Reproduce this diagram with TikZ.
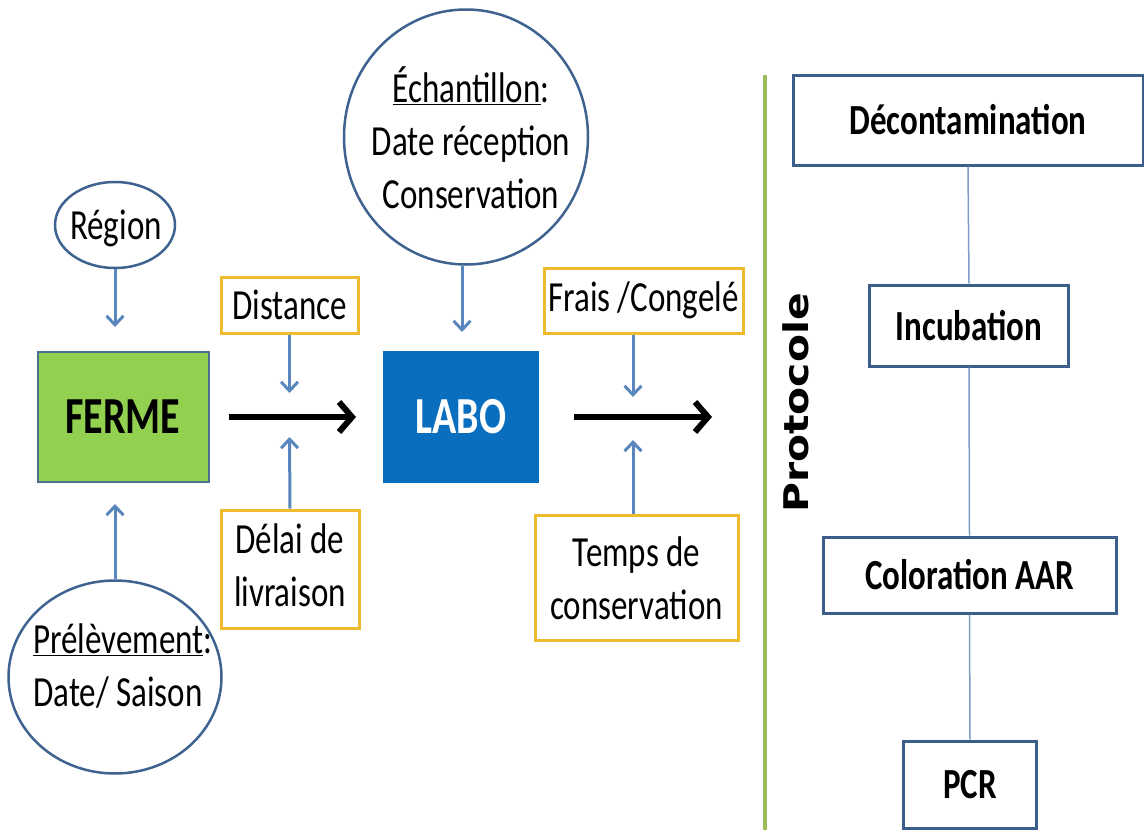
\documentclass[tikz,border=0pt]{standalone}
\usepackage{fontspec}
\setmainfont{Carlito}
\newfontfamily\protofont{DejaVu Sans}
\usepackage{graphicx}
\usetikzlibrary{arrows.meta,shapes.geometric}
\definecolor{ellbd}{HTML}{3F6390}
\definecolor{arrblue}{HTML}{5A86BE}
\definecolor{goldbd}{HTML}{EDBB2C}
\definecolor{fermegreen}{HTML}{92D050}
\definecolor{fermebd}{HTML}{4A6F8F}
\definecolor{labofill}{HTML}{0A6EBF}
\definecolor{stepbd}{HTML}{3B5E8A}
\definecolor{thinline}{HTML}{7E9CC6}
\definecolor{greenline}{HTML}{9BBB59}
\newcommand\vst[1]{\scalebox{1}[1.3]{#1}}
\begin{document}
\begin{tikzpicture}[x=1pt,y=-1pt,
  txt/.style={font=\fontsize{33}{41}\selectfont, text=black, inner sep=0pt},
  oval/.style={ellipse, draw=ellbd, line width=2.5pt, fill=white, inner sep=0pt},
  param/.style={rectangle, draw=goldbd, line width=3pt, fill=white, inner sep=0pt, txt},
  stepbox/.style={rectangle, draw=stepbd, line width=3pt, fill=white, inner sep=0pt, font=\fontsize{33}{41}\selectfont\bfseries},
  mainbox/.style={rectangle, line width=2pt, inner sep=0pt, minimum width=171pt, minimum height=130pt, font=\fontsize{40}{48}\selectfont\bfseries},
  feed/.style={draw=arrblue, line width=3pt, -{Straight Barb[length=9pt,width=17pt]}},
  flow/.style={draw=black, line width=6pt, -{Straight Barb[length=13pt,width=30pt]}},
  link/.style={draw=thinline, line width=1.5pt}
]
\useasboundingbox (0,0) rectangle (1144,830);
\fill[white] (0,0) rectangle (1144,830);

% main boxes
\node[mainbox, draw=fermebd, fill=fermegreen, text=black] (ferme) at (123,417) {\vst{FERME}};
\node[mainbox, draw=labofill, fill=labofill, text=white, minimum width=154pt] (labo) at (461,417) {\vst{LABO}};

% ellipses
\node[oval, minimum width=120pt, minimum height=86pt] (region) at (115,225) {};
\node[txt] (regiont) at (116,228) {\vst{Région}};
\node[oval, minimum width=213pt, minimum height=193pt] (prel) at (115,677) {};
\node[txt, anchor=west] (prelt) at (33,669) {\vst{\begin{tabular}{@{}l@{}}\underline{Prélèvement}:\\Date/ Saison\end{tabular}}};
\node[oval, minimum width=244pt, minimum height=255pt] (ech) at (466,137) {};
\node[txt] (echt) at (471,145) {\vst{\begin{tabular}{@{}c@{}}\underline{Échantillon}:\\Date réception\\Conservation\end{tabular}}};

% parameter boxes
\node[param, minimum width=137pt, minimum height=56pt] (dist) at (289.5,305) {\vst{Distance}};
\node[param, minimum width=138pt, minimum height=118pt] (delai) at (290,569) {\vst{\begin{tabular}{@{}c@{}}Délai de\\livraison\end{tabular}}};
\node[param, minimum width=199pt, minimum height=65pt] (frais) at (643.5,300.5) {\vst{Frais /Congelé}};
\node[param, minimum width=203pt, minimum height=125pt] (temps) at (636.5,577.5) {};
\node[txt] (tempst) at (636.5,582) {\vst{\begin{tabular}{@{}c@{}}Temps de\\conservation\end{tabular}}};

% free ends of the feed arrows
\coordinate (dend) at (289.5,393);
\coordinate (lend) at (289.5,437);
\coordinate (fend) at (633,397);
\coordinate (tend) at (633,440);
\coordinate (flowend) at (712,417);

% flows
\draw[flow, shorten <=19pt, shorten >=27pt] (ferme.east) -- (labo.west);
\draw[flow, shorten <=35pt] (labo.east) -- (flowend);

% feeds
\draw[feed, shorten >=24pt] (region.south) -- (region.south |- ferme.north);
\draw[feed, shorten >=21pt] (prel.north) -- (prel.north |- ferme.south);
\draw[feed] (dist.south) -- (dend);
\draw[feed] (delai.north) -- (lend);
\draw[feed, shorten >=19pt] (ech.south -| 462,0) -- (labo.north -| 462,0);
\draw[feed] (frais.south -| fend) -- (fend);
\draw[feed] (temps.north -| tend) -- (tend);

% protocol column
\draw[greenline, line width=4pt] (765,75) -- (765,830);
\node[rotate=90, inner sep=0pt, font=\protofont\bfseries\fontsize{34}{40}\selectfont] (proto) at (796,403) {\scalebox{1.2}[1]{Protocole}};

\node[stepbox, minimum width=350pt, minimum height=90pt] (s1) at (968,120) {\vst{Décontamination}};
\node[stepbox, minimum width=199pt, minimum height=81pt] (s2) at (969,325.5) {\vst{Incubation}};
\node[stepbox, minimum width=293pt, minimum height=76pt] (s3) at (969.5,575) {\vst{Coloration AAR}};
\node[stepbox, minimum width=133pt, minimum height=87pt] (s4) at (970,784.5) {\vst{PCR}};
\draw[link] (s1.south) -- (s2.north);
\draw[link] (s2.south) -- (s3.north);
\draw[link] (s3.south) -- (s4.north);
\end{tikzpicture}
\end{document}
